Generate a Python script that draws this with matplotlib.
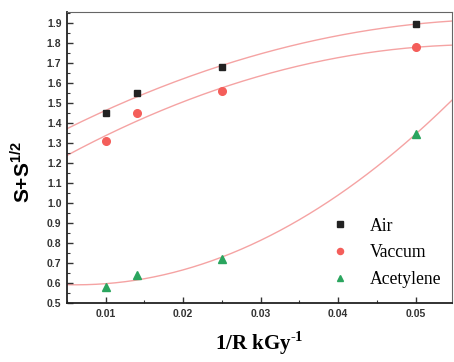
import matplotlib as ml
ml.use('Agg')
import numpy as np
import matplotlib.pyplot as plt
from matplotlib.ticker import MultipleLocator

# Dose reciprocal values (1/R, kGy^-1)
inv_dose = [0.01, 0.014, 0.025, 0.05]

# S+S^1/2 for each atmosphere
air = [1.45, 1.55, 1.68, 1.895]
vaccum = [1.31, 1.45, 1.56, 1.78]
acetylene = [0.58, 0.64, 0.72, 1.345]

labels = ['Air', 'Vaccum', 'Acetylene']
xlim = (0.005, 0.0547)
ylim = (0.5, 1.955)

plt.rcParams['mathtext.fontset'] = 'custom'
plt.rcParams['mathtext.rm'] = 'Liberation Serif:bold'
plt.rcParams['mathtext.sf'] = 'Liberation Sans:bold'

fig = plt.figure(figsize=(4.54, 3.62), dpi=100)
ax = fig.add_axes([0.1476, 0.163, 0.848, 0.804])

# Fitted curves (quadratic fits to the points)
xx = np.linspace(xlim[0], xlim[1], 200)
for ys in (air, vaccum, acetylene):
    coef = np.polyfit(inv_dose, ys, 2)
    ax.plot(xx, np.polyval(coef, xx), color='#f5a3a3', lw=1.0, zorder=1)

ax.plot(inv_dose, air, ls='none', marker='s', ms=5, color='#222222', label=labels[0], zorder=3)
ax.plot(inv_dose, vaccum, ls='none', marker='o', ms=5.5, color='#f45e5a', label=labels[1], zorder=3)
ax.plot(inv_dose, acetylene, ls='none', marker='^', ms=6, color='#2aa55e', label=labels[2], zorder=3)

ax.set_xlim(*xlim)
ax.set_ylim(*ylim)
ax.xaxis.set_major_locator(MultipleLocator(0.01))
ax.xaxis.set_minor_locator(MultipleLocator(0.005))
ax.yaxis.set_major_locator(MultipleLocator(0.1))
ax.yaxis.set_minor_locator(MultipleLocator(0.05))
ax.xaxis.set_major_formatter(ml.ticker.FormatStrFormatter('%.2f'))
ax.yaxis.set_major_formatter(ml.ticker.FormatStrFormatter('%.1f'))
ax.tick_params(which='both', direction='in', top=False, right=False)
ax.tick_params(which='major', length=4, width=1, labelsize=7.5, pad=4, colors='#333333')
ax.tick_params(which='minor', length=2, width=0.8, colors='#333333')
for lab in ax.get_xticklabels() + ax.get_yticklabels():
    lab.set_family('Liberation Sans')
    lab.set_fontweight('bold')

for s in ('left', 'bottom'):
    ax.spines[s].set_linewidth(1.3)
    ax.spines[s].set_color('#222222')
for s in ('top', 'right'):
    ax.spines[s].set_linewidth(0.8)
    ax.spines[s].set_color('#666666')

ax.set_ylabel('S+S$^{\\mathsf{1/2}}$', family='Liberation Sans', fontweight='bold', fontsize=15)
ax.yaxis.set_label_coords(-0.088, 0.45)
ax.set_xlabel('1/R kGy$^{\\text{-1}}$', family='Liberation Serif', fontweight='bold', fontsize=15, labelpad=8)

ax.legend(loc='lower right', bbox_to_anchor=(0.998, 0.018), frameon=False,
          prop={'family': 'Liberation Serif', 'size': 12.7},
          handletextpad=0.7, labelspacing=0.55, borderaxespad=0.15, markerscale=0.8)

fig.savefig('out.png', dpi=100)
